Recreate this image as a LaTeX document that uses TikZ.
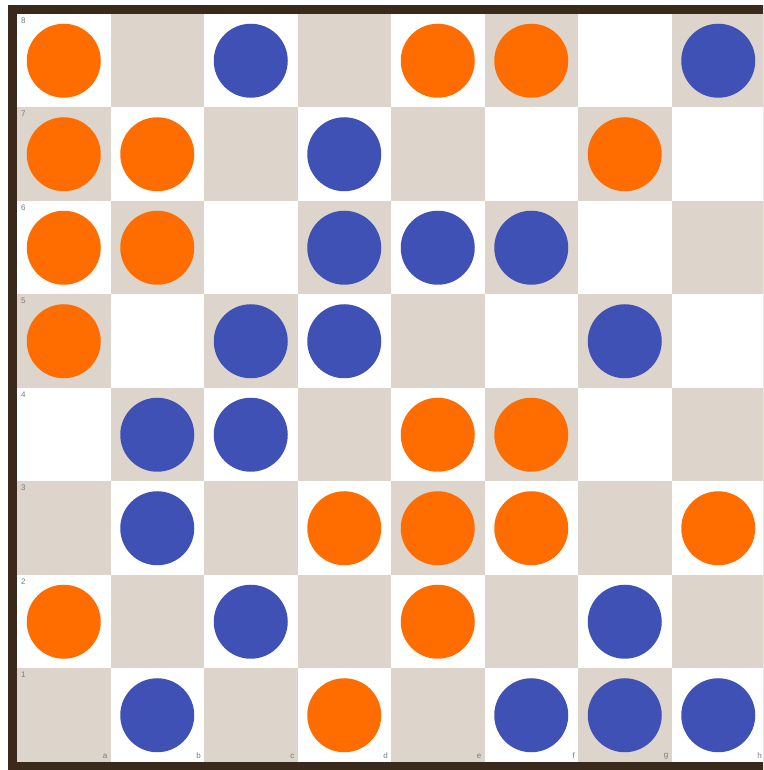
\documentclass[tikz,border=0pt]{standalone}
\usepackage{fontspec}
\setsansfont{Liberation Sans}
\definecolor{frame}{HTML}{3A2A1C}
\definecolor{darksq}{HTML}{DDD4CB}
\definecolor{po}{HTML}{FF6D00}
\definecolor{pb}{HTML}{3F51B5}
\definecolor{lab}{HTML}{7A7A7A}
\tikzset{
  sqlight/.style={fill=white},
  sqdark/.style={fill=darksq},
  piece/.style={circle, minimum size=74pt, inner sep=0pt, draw=none},
  lbl/.style={font=\sffamily\fontsize{8}{8}\selectfont, text=lab, inner sep=0pt}
}
\begin{document}
\begin{tikzpicture}[x=1pt,y=1pt]
\useasboundingbox (0,0) rectangle (763,770);
\clip (0,0) rectangle (763,770);
\fill[white] (0,0) rectangle (763,770);
\fill[frame] (8,0) rectangle (790,765);
\foreach \c in {0,...,7}{
  \foreach \r in {0,...,7}{
    \pgfmathtruncatemacro{\parity}{mod(\c+\r,2)}
    \ifnum\parity=0
      \fill[sqdark] ({17+\c*93.5},{8+\r*93.5}) rectangle ++(93.5,93.5);
    \else
      \fill[sqlight] ({17+\c*93.5},{8+\r*93.5}) rectangle ++(93.5,93.5);
    \fi
  }
}
\foreach \n [count=\i from 0] in {1,...,8}{
  \node[lbl, anchor=north west] (rank\n) at (21,{8+\i*93.5+93.5-3.5}) {\n};
}
\foreach \l [count=\i from 0] in {a,b,c,d,e,f,g,h}{
  \node[lbl, anchor=south east] (file\l) at ({17+\i*93.5+93.5-3},11) {\l};
}
\foreach \f/\r/\col [count=\k] in {
  0/7/po,2/7/pb,4/7/po,5/7/po,7/7/pb,
  0/6/po,1/6/po,3/6/pb,6/6/po,
  0/5/po,1/5/po,3/5/pb,4/5/pb,5/5/pb,
  0/4/po,2/4/pb,3/4/pb,6/4/pb,
  1/3/pb,2/3/pb,4/3/po,5/3/po,
  1/2/pb,3/2/po,4/2/po,5/2/po,7/2/po,
  0/1/po,2/1/pb,4/1/po,6/1/pb,
  1/0/pb,3/0/po,5/0/pb,6/0/pb,7/0/pb}{
  \node[piece, fill=\col] (p\k) at ({17+\f*93.5+46.75},{8+\r*93.5+46.75}) {};
}
\end{tikzpicture}
\end{document}
